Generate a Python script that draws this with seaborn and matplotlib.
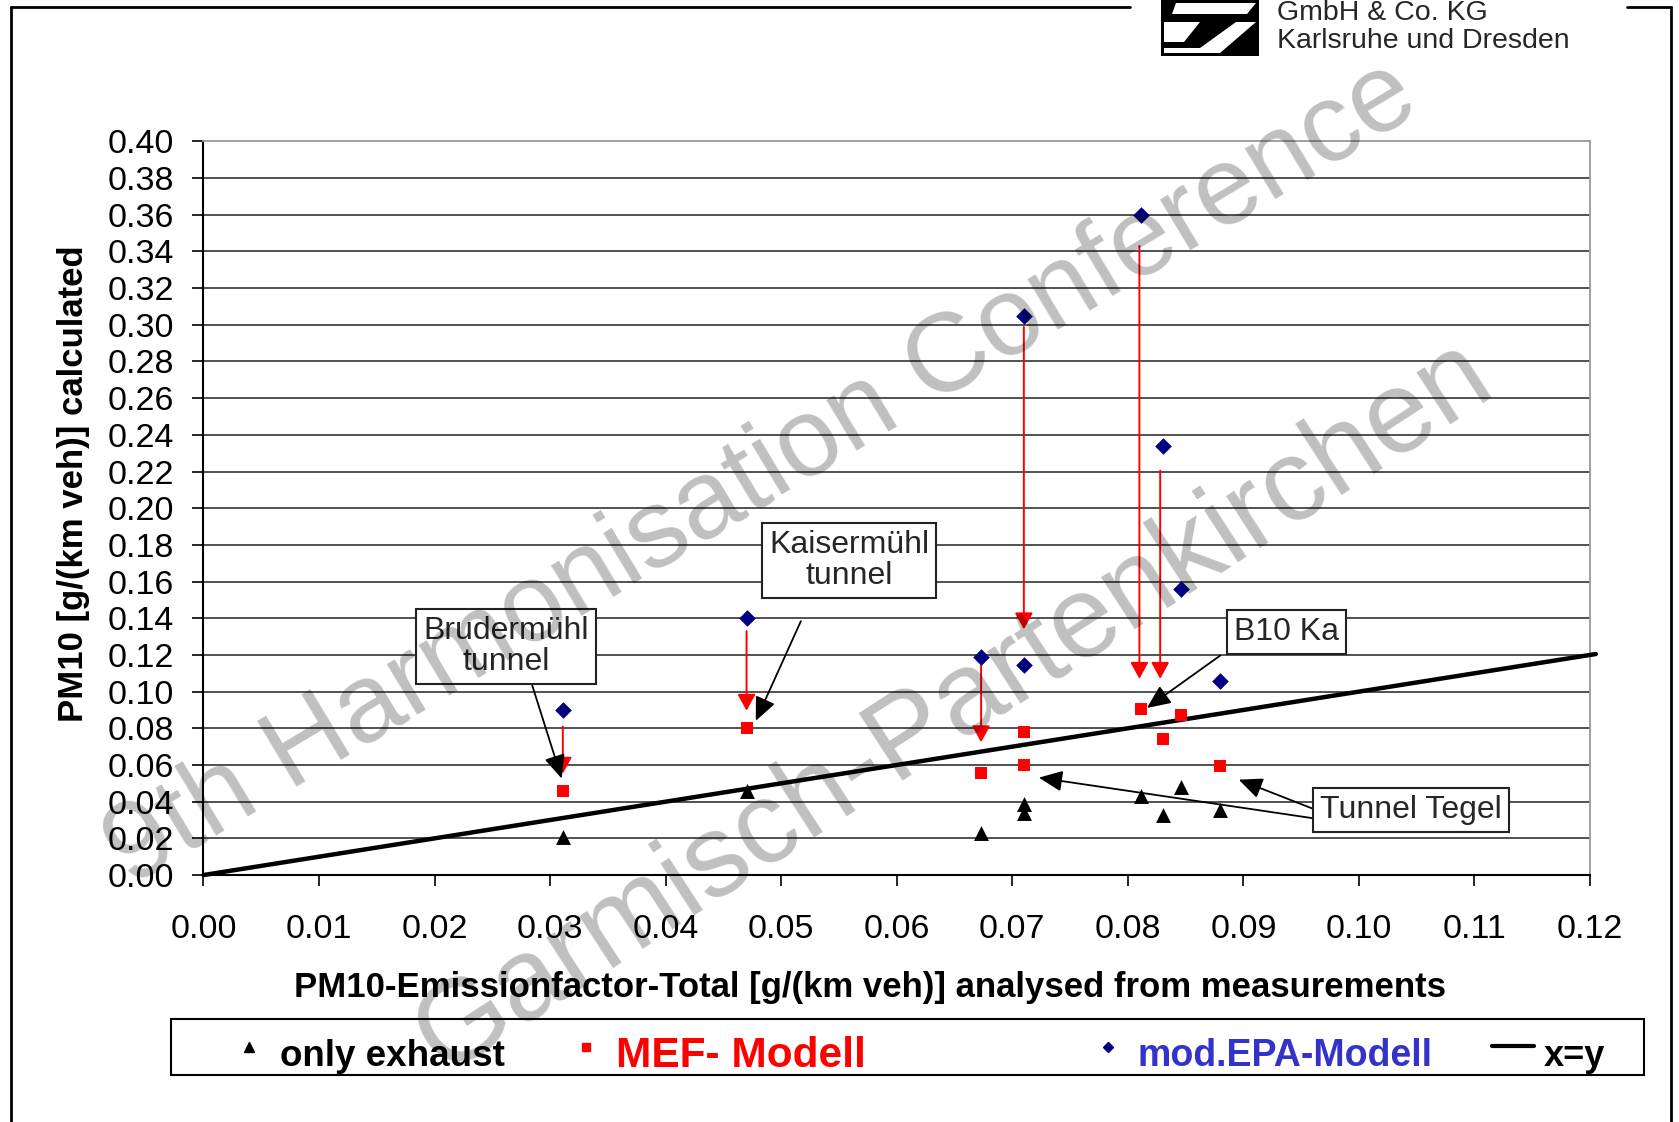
import numpy as np
import pandas as pd
import matplotlib
matplotlib.use('Agg')
import matplotlib.pyplot as plt
from matplotlib.lines import Line2D
from matplotlib.patches import Rectangle, Polygon
from matplotlib.ticker import FormatStrFormatter
import seaborn as sns

# Valores
x_meas = [0.0311, 0.0470, 0.0673, 0.0710, 0.0710, 0.0811, 0.0830, 0.0846, 0.0880]
only_exhaust = [0.021, 0.046, 0.023, 0.039, 0.034, 0.043, 0.033, 0.048, 0.0355]
mef_modell = [0.046, 0.080, 0.0556, 0.078, 0.060, 0.0905, 0.074, 0.0873, 0.0593]
epa_modell = [0.090, 0.140, 0.119, 0.305, 0.1146, 0.360, 0.234, 0.156, 0.106]
diag = [0.0, 0.1205]

# flechas rojas EPA -> MEF
arrow_x = [0.0311, 0.0470, 0.0673, 0.0710, 0.0810, 0.0828]
arrow_from = [0.081, 0.133, 0.1158, 0.2988, 0.343, 0.2205]
arrow_to = [0.0553, 0.0896, 0.0724, 0.134, 0.107, 0.107]

# cajas con nombres de los sitios
site_names = ['Brudermühl\ntunnel', 'Kaisermühl\ntunnel', 'B10 Ka', 'Tunnel Tegel']
site_xy = [(0.0262, 0.1247), (0.0559, 0.1714), (0.0937, 0.1323), (0.1045, 0.0356)]
pointer_from = [(0.02845, 0.1034), (0.0517, 0.1384), (0.0880, 0.1197), (0.0960, 0.0362), (0.0960, 0.0310)]
pointer_to = [(0.0310, 0.0526), (0.0478, 0.0841), (0.08165, 0.0911), (0.0896, 0.0520), (0.0723, 0.0531)]

x_ticks = np.arange(0, 0.1201, 0.01)
y_ticks = np.arange(0, 0.4001, 0.02)

W, H = 1679, 1122
def fx(px):
    return px / W
def fy(py):
    return 1 - py / H

sns.set_theme(style='white')
plt.rcParams['font.family'] = ['Liberation Sans', 'DejaVu Sans']

fig = plt.figure(figsize=(16.79, 11.22), dpi=100)
ax = fig.add_axes([0.1212, 0.2201, 0.8258, 0.6539])

df = pd.DataFrame({'x': x_meas, 'exhaust': only_exhaust, 'mef': mef_modell, 'epa': epa_modell})

sns.lineplot(x=diag, y=diag, color='black', lw=3.2, ax=ax, zorder=3)
ax.lines[-1].set_clip_on(False)
sns.scatterplot(data=df, x='x', y='exhaust', marker='^', s=115, color='black', linewidth=0, ax=ax, zorder=4)
sns.scatterplot(data=df, x='x', y='mef', marker='s', s=72, color='#ff0000', linewidth=0, ax=ax, zorder=4)
sns.scatterplot(data=df, x='x', y='epa', marker='D', s=72, color='#000080', linewidth=0, ax=ax, zorder=4)

for xa, y0, y1 in zip(arrow_x, arrow_from, arrow_to):
    ax.annotate('', xy=(xa, y1), xytext=(xa, y0),
                arrowprops=dict(arrowstyle='-|>,head_length=0.4,head_width=0.22', mutation_scale=25,
                                color='#ff0000', lw=1.4, shrinkA=0, shrinkB=0), zorder=3)

for p0, p1 in zip(pointer_from, pointer_to):
    ax.annotate('', xy=p1, xytext=p0,
                arrowprops=dict(arrowstyle='-|>,head_length=0.45,head_width=0.2', mutation_scale=32,
                                color='black', lw=1.3, shrinkA=0, shrinkB=0), zorder=5)

for name, (xt, yt) in zip(site_names, site_xy):
    ax.text(xt, yt, name, ha='center', va='center', fontsize=23, linespacing=1.05, zorder=6,
            bbox=dict(boxstyle='square,pad=0.22', fc='white', ec='#222222', lw=1.5))

ax.set_xlim(0, 0.12)
ax.set_ylim(0, 0.40)
ax.set_xticks(x_ticks)
ax.set_yticks(y_ticks)
ax.xaxis.set_major_formatter(FormatStrFormatter('%.2f'))
ax.yaxis.set_major_formatter(FormatStrFormatter('%.2f'))
ax.yaxis.grid(True, color='#333333', lw=1.2)
ax.xaxis.grid(False)
ax.set_axisbelow(True)
ax.yaxis.get_gridlines()[-1].set_visible(False)
ax.tick_params(axis='both', bottom=True, left=True, direction='out', length=8, width=1.2,
               color='black', labelsize=24.5, labelcolor='black')
ax.tick_params(axis='x', pad=20)
ax.tick_params(axis='y', pad=13)
for s in ['left', 'bottom']:
    ax.spines[s].set_color('black')
    ax.spines[s].set_linewidth(1.5)
for s in ['top', 'right']:
    ax.spines[s].set_color('#999999')
    ax.spines[s].set_linewidth(1.3)

ax.set_xlabel('PM10-Emissionfactor-Total [g/(km veh)] analysed from measurements',
              fontsize=25, fontweight='bold', color='black')
ax.set_ylabel('PM10 [g/(km veh)] calculated', fontsize=25, fontweight='bold', color='black')
ax.xaxis.set_label_coords(0.481, -0.153)
ax.xaxis.label.set_va('center')
ax.yaxis.set_label_coords(-0.094, 0.534)
ax.yaxis.label.set_va('center')

# leyenda dibujada a mano
fig.add_artist(Rectangle((fx(171), fy(1075)), fx(1644) - fx(171), fy(1019) - fy(1075),
                         transform=fig.transFigure, fill=False, ec='black', lw=1.5))
leg_items = [('^', 'black', 6.5, 249, 'only exhaust', 'black', 280, 26.5),
             ('s', '#ff0000', 6, 586, 'MEF- Modell', '#ff0000', 616, 30.5),
             ('D', '#000080', 5.5, 1108, 'mod.EPA-Modell', '#3333cc', 1138, 27)]
for mk, mc, ms, mx, lab, tc, tx, fs in leg_items:
    fig.add_artist(Line2D([fx(mx)], [fy(1047)], marker=mk, ms=ms, color=mc, lw=0,
                          transform=fig.transFigure))
    fig.text(fx(tx), fy(1056), lab, color=tc, fontsize=fs, fontweight='bold', ha='left', va='center')
fig.add_artist(Line2D([fx(1492), fx(1534)], [fy(1046), fy(1046)], color='black', lw=3,
                      transform=fig.transFigure))
fig.text(fx(1544), fy(1056), 'x=y', color='black', fontsize=26, fontweight='bold', ha='left', va='center')

# marco de la diapositiva
fig.add_artist(Line2D([fx(11), fx(1130)], [fy(7), fy(7)], color='black', lw=2, transform=fig.transFigure))
fig.add_artist(Line2D([fx(1627), fx(1671)], [fy(7), fy(7)], color='black', lw=2, transform=fig.transFigure))
fig.add_artist(Line2D([fx(11), fx(11)], [fy(7), 0], color='black', lw=2, transform=fig.transFigure))
fig.add_artist(Line2D([fx(1671), fx(1671)], [fy(7), 0], color='black', lw=2, transform=fig.transFigure))

# logo
fig.add_artist(Rectangle((fx(1161), fy(56)), fx(1259) - fx(1161), fy(0) - fy(56),
                         transform=fig.transFigure, fc='black', ec='none'))
logo_white = [[(1176, 3), (1256, 3), (1247, 14), (1172, 14)],
              [(1164, 22), (1200, 22), (1184, 42), (1164, 42)],
              [(1164, 48), (1200, 48), (1236, 22), (1256, 22), (1220, 53), (1164, 53)]]
for poly in logo_white:
    fig.add_artist(Polygon([(fx(a), fy(b)) for a, b in poly], closed=True,
                           transform=fig.transFigure, fc='white', ec='none'))
head_font = ['Liberation Sans Narrow', 'Liberation Sans', 'DejaVu Sans']
fig.text(fx(1277), fy(13), 'GmbH & Co. KG', fontsize=20.5, family=head_font, ha='left', va='center')
fig.text(fx(1277), fy(41), 'Karlsruhe und Dresden', fontsize=20.5, family=head_font, ha='left', va='center')

# marca de agua
fig.text(0.4535, 0.578, '9th Harmonisation Conference', fontsize=80, color='black', alpha=0.25,
         rotation=31, rotation_mode='anchor', ha='center', va='center', zorder=10)
fig.text(0.568, 0.370, 'Garmisch-Partenkirchen', fontsize=84, color='black', alpha=0.25,
         rotation=33, rotation_mode='anchor', ha='center', va='center', zorder=10)

fig.savefig('out.png', dpi=100)
